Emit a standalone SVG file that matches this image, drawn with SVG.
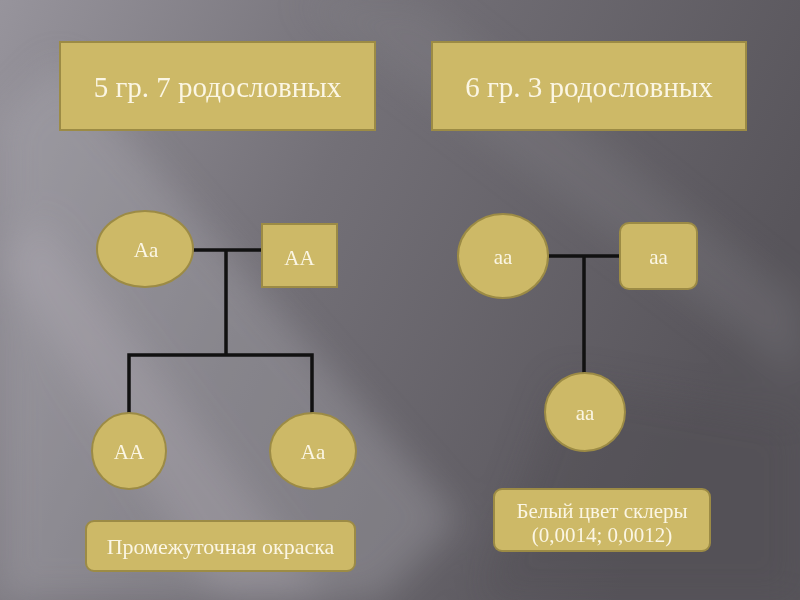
<svg xmlns="http://www.w3.org/2000/svg" width="800" height="600" viewBox="0 0 800 600">
  <defs>
    <linearGradient id="bg" x1="0" y1="0" x2="1" y2="0.35">
      <stop offset="0" stop-color="#97949c"/>
      <stop offset="0.45" stop-color="#737077"/>
      <stop offset="1" stop-color="#58555b"/>
    </linearGradient>
    <filter id="blur" x="-20%" y="-20%" width="140%" height="140%">
      <feGaussianBlur stdDeviation="18"/>
    </filter>
    <style>
      .shape { fill: #cdb967; stroke: #9c8b45; stroke-width: 2; }
      .line { stroke: #111111; stroke-width: 3.5; fill: none; stroke-linecap: square; }
      .txt { font-family: "Liberation Serif", "DejaVu Serif", serif; fill: #fbf6e4; text-anchor: middle; }
      .big { font-size: 29px; }
      .node { font-size: 21px; }
      .note { font-size: 22px; }
      .note2 { font-size: 21px; }
    </style>
  </defs>

  <!-- background -->
  <rect width="800" height="600" fill="url(#bg)"/>
  <g filter="url(#blur)" opacity="0.55">
    <polygon points="0,120 60,60 460,520 380,600 0,600" fill="#b3b0b8" opacity="0.6"/>
    <polygon points="0,260 40,220 330,600 220,600" fill="#bdbac2" opacity="0.7"/>
    <polygon points="300,0 420,0 800,300 800,380" fill="#8a878e" opacity="0.5"/>
    <polygon points="560,380 800,420 800,600 480,600" fill="#4f4c52" opacity="0.7"/>
  </g>

  <!-- connectors -->
  <g id="connectors">
    <path class="line" d="M192,250 H261 M226,250 V355 M129,355 H312 M129,355 V412 M312,355 V412"/>
    <path class="line" d="M548,256 H620 M584,256 V373"/>
  </g>

  <!-- headers -->
  <g id="header1">
    <rect class="shape" x="60" y="42" width="315" height="88"/>
    <text class="txt big" x="217.5" y="97">5 гр. 7 родословных</text>
  </g>
  <g id="header2">
    <rect class="shape" x="432" y="42" width="314" height="88"/>
    <text class="txt big" x="589" y="97">6 гр. 3 родословных</text>
  </g>

  <!-- left pedigree -->
  <g id="mother1">
    <ellipse class="shape" cx="145" cy="249" rx="48" ry="38"/>
    <text class="txt node" x="146" y="257">Aa</text>
  </g>
  <g id="father1">
    <rect class="shape" x="262" y="224" width="75" height="63"/>
    <text class="txt node" x="299.5" y="265">AA</text>
  </g>
  <g id="child1a">
    <ellipse class="shape" cx="129" cy="451" rx="37" ry="38"/>
    <text class="txt node" x="129" y="459">AA</text>
  </g>
  <g id="child1b">
    <ellipse class="shape" cx="313" cy="451" rx="43" ry="38"/>
    <text class="txt node" x="313" y="459">Aa</text>
  </g>

  <!-- right pedigree -->
  <g id="mother2">
    <ellipse class="shape" cx="503" cy="256" rx="45" ry="42"/>
    <text class="txt node" x="503" y="264">aa</text>
  </g>
  <g id="father2">
    <rect class="shape" x="620" y="223" width="77" height="66" rx="9"/>
    <text class="txt node" x="658.5" y="264">aa</text>
  </g>
  <g id="child2">
    <ellipse class="shape" cx="585" cy="412" rx="40" ry="39"/>
    <text class="txt node" x="585" y="420">aa</text>
  </g>

  <!-- notes -->
  <g id="note1">
    <rect class="shape" x="86" y="521" width="269" height="50" rx="8"/>
    <text class="txt note" x="220.5" y="554">Промежуточная окраска</text>
  </g>
  <g id="note2">
    <rect class="shape" x="494" y="489" width="216" height="62" rx="8"/>
    <text class="txt note2" x="602" y="518">Белый цвет склеры</text>
    <text class="txt note2" x="602" y="542">(0,0014; 0,0012)</text>
  </g>
</svg>
